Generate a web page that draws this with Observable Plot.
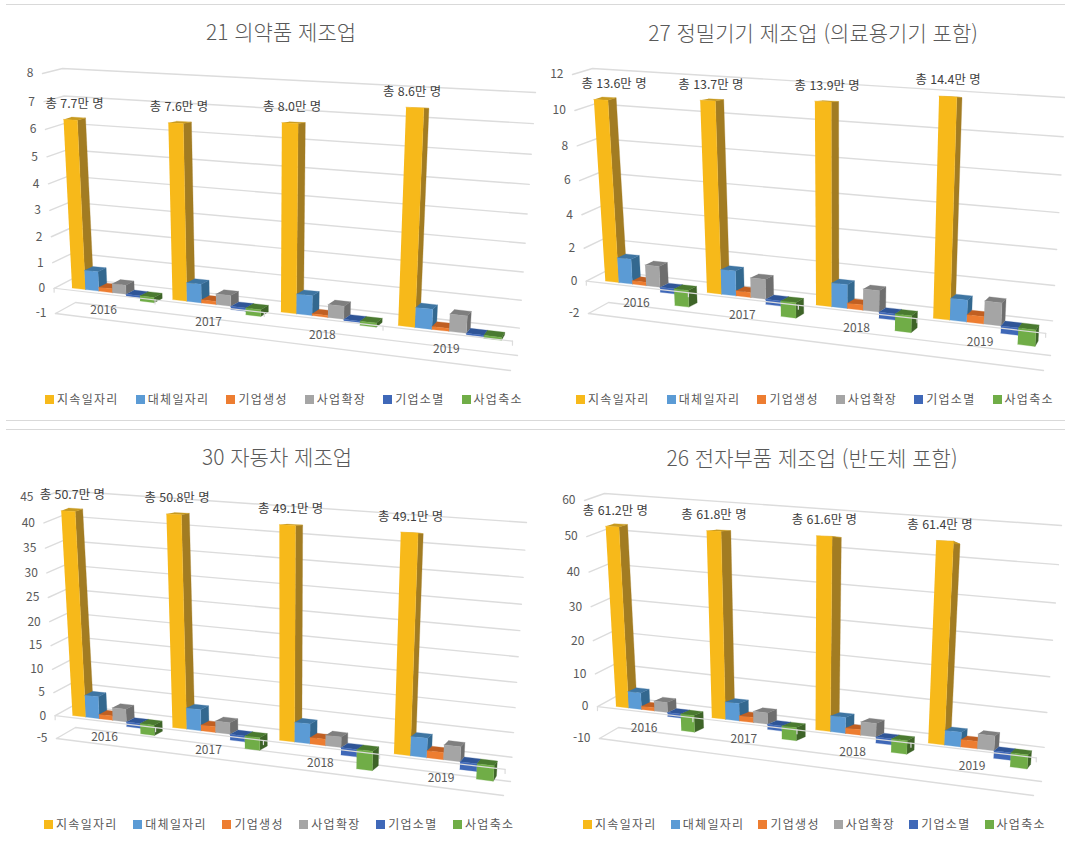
<!DOCTYPE html>
<html lang="ko">
<head>
<meta charset="utf-8">
<title>업종별 일자리 변화</title>
<script src="https://cdn.jsdelivr.net/npm/d3@7"></script>
<script src="https://cdn.jsdelivr.net/npm/@observablehq/plot@0.6"></script>
<style>
  html, body { margin: 0; padding: 0; background: #fff; }
  body { position: relative; width: 1065px; height: 841px; overflow: hidden;
         font-family: "Noto Sans CJK KR", "Noto Sans", sans-serif; color: #595959; }
  .rule { position: absolute; left: 6px; right: 0; height: 1px; background: #d9d9d9; }
  .title { position: absolute; transform: translate(-50%, -50%); font-size: 21px; font-weight: 300; white-space: nowrap; }
  .panel { position: absolute; }
  .panel svg { overflow: visible; background: transparent; display: block; }
  .legend { position: absolute; display: flex; font-size: 12px; letter-spacing: 1.3px; white-space: nowrap; line-height: 14px; }
  .legend span { display: flex; align-items: center; }
  .legend i { display: inline-block; width: 9px; height: 9px; margin-right: 3px; }
</style>
</head>
<body>
<script>
// Categories
const years = ["2016", "2017", "2018", "2019"];
const seriesNames = ["지속일자리", "대체일자리", "기업생성", "사업확장", "기업소멸", "사업축소"];

// 21 의약품 제조업 (만 명)
const pharmaTotals = [7.7, 7.6, 8.0, 8.6];
const pharmaContinuing = [6.35, 6.42, 6.62, 7.3];
const pharmaReplaced = [0.75, 0.7, 0.72, 0.7];
const pharmaBirth = [0.15, 0.12, 0.07, 0.1];
const pharmaExpansion = [0.35, 0.4, 0.47, 0.6];
const pharmaDeath = [-0.08, -0.12, -0.05, -0.05];
const pharmaShrink = [-0.2, -0.25, -0.15, -0.1];

// 27 정밀기기 제조업 (만 명)
const precisionTotals = [13.6, 13.7, 13.9, 14.4];
const precisionContinuing = [10.6, 10.85, 11.1, 11.65];
const precisionReplaced = [1.5, 1.45, 1.35, 1.2];
const precisionBirth = [0.2, 0.3, 0.3, 0.4];
const precisionExpansion = [1.25, 1.15, 1.2, 1.25];
const precisionDeath = [-0.3, -0.3, -0.35, -0.4];
const precisionShrink = [-1.0, -0.9, -0.95, -0.9];

// 30 자동차 제조업 (만 명)
const autoTotals = [50.7, 50.8, 49.1, 49.1];
const autoContinuing = [42.3, 42.7, 41.8, 41.6];
const autoReplaced = [4.7, 4.4, 4, 3.8];
const autoBirth = [0.9, 1.2, 1.3, 1.4];
const autoExpansion = [2.7, 2.4, 2.1, 2.9];
const autoDeath = [-1, -1.2, -1.5, -1.5];
const autoShrink = [-2.2, -2.6, -3.9, -3];

// 26 전자부품 제조업 (만 명)
const electronicsTotals = [61.2, 61.8, 61.6, 61.4];
const electronicsContinuing = [52.7, 52.7, 52.6, 52.7];
const electronicsReplaced = [5, 5.1, 4.5, 4];
const electronicsBirth = [1, 1.5, 1.5, 2];
const electronicsExpansion = [3, 3.3, 3.8, 4];
const electronicsDeath = [-1.2, -1.5, -1.7, -2];
const electronicsShrink = [-5, -3.8, -3.8, -3.8];

// Shades per series: front face, right side, top face
const shades = [
  { front: "#f7b91a", side: "#a27c22", top: "#c79a20" },
  { front: "#5b9bd5", side: "#33688f", top: "#3e75a2" },
  { front: "#ed7d31", side: "#a8561f", top: "#c05f22" },
  { front: "#a5a5a5", side: "#6e6e6e", top: "#7f7f7f" },
  { front: "#3f68b8", side: "#2c4a85", top: "#2f5597" },
  { front: "#70ad47", side: "#3e6428", top: "#4a7a30" }
];

// Panel setup. The corners are the perspective box of each 3D chart, in page pixels.
const panels = [
  {
    title: "21 의약품 제조업", titlePos: [281, 31], legendPos: [45, 392], legendGap: 17,
    ticks: [-1, 0, 1, 2, 3, 4, 5, 6, 7, 8], calloutDx: [4, 3, 2, -3], barShift: 0.007,
    totals: pharmaTotals,
    series: [pharmaContinuing, pharmaReplaced, pharmaBirth, pharmaExpansion, pharmaDeath, pharmaShrink],
    box: [0, 45, 532, 345],
    front: { bl: [55, 313], br: [510, 370], tl: [42, 73], tr: [529, 88] },
    back: { bl: [75, 302], br: [517, 355], tl: [62, 68], tr: [535, 92] }
  },
  {
    title: "27 정밀기기 제조업 (의료용기기 포함)", titlePos: [813, 32], legendPos: [576, 392], legendGap: 17,
    ticks: [-2, 0, 2, 4, 6, 8, 10, 12], calloutDx: [13, 3, 4, 0], barShift: 0.009,
    totals: precisionTotals,
    series: [precisionContinuing, precisionReplaced, precisionBirth, precisionExpansion, precisionDeath, precisionShrink],
    box: [532, 45, 533, 345],
    front: { bl: [588, 313], br: [1043, 370], tl: [572, 74], tr: [1059, 93] },
    back: { bl: [608, 302], br: [1050, 355], tl: [592, 68], tr: [1065, 97] }
  },
  {
    title: "30 자동차 제조업", titlePos: [277, 456], legendPos: [44, 817], legendGap: 15.5,
    ticks: [-5, 0, 5, 10, 15, 20, 25, 30, 35, 40, 45], calloutDx: [4, 3, 3, 1], barShift: 0.006,
    totals: autoTotals,
    series: [autoContinuing, autoReplaced, autoBirth, autoExpansion, autoDeath, autoShrink],
    box: [0, 470, 532, 345],
    front: { bl: [56, 738], br: [503, 795], tl: [42, 497], tr: [520, 517] },
    back: { bl: [75, 727], br: [510, 781], tl: [60, 490], tr: [526, 522] }
  },
  {
    title: "26 전자부품 제조업 (반도체 포함)", titlePos: [812, 457], legendPos: [583, 817], legendGap: 14,
    ticks: [-10, 0, 10, 20, 30, 40, 50, 60], calloutDx: [3, 0, 0, -5], barShift: 0.011,
    totals: electronicsTotals,
    series: [electronicsContinuing, electronicsReplaced, electronicsBirth, electronicsExpansion, electronicsDeath, electronicsShrink],
    box: [532, 470, 533, 345],
    front: { bl: [599, 738], br: [1033, 795], tl: [584, 500], tr: [1054, 511] },
    back: { bl: [618, 727], br: [1041, 781], tl: [604, 493], tr: [1061, 525] }
  }
];

const gridColor = "#dcdcdc";
const tickColor = "#595959";
const font = "'Noto Sans CJK KR', 'Noto Sans', sans-serif";
const groupGap = 0.18;
const barSpread = 0.985;
const depthNear = 0.18;
const depthFar = 0.58;

// Maps the unit square onto a quad through a homography, so spacing shortens with distance.
function quadMap({ bl, br, tl, tr }) {
  const [x0, y0] = bl, [x1, y1] = br, [x2, y2] = tr, [x3, y3] = tl;
  const dx1 = x1 - x2, dx2 = x3 - x2, sx = x0 - x1 + x2 - x3;
  const dy1 = y1 - y2, dy2 = y3 - y2, sy = y0 - y1 + y2 - y3;
  const det = dx1 * dy2 - dx2 * dy1;
  const g = (sx * dy2 - dx2 * sy) / det;
  const h = (dx1 * sy - sx * dy1) / det;
  const a = x1 - x0 + g * x1, b = x3 - x0 + h * x3;
  const d = y1 - y0 + g * y1, e = y3 - y0 + h * y3;
  return (u, t) => {
    const w = g * u + h * t + 1;
    return [(a * u + b * t + x0) / w, (d * u + e * t + y0) / w];
  };
}

function makeProjection(panel) {
  const [vmin, vmax] = d3.extent(panel.ticks);
  const front = quadMap(panel.front);
  const back = quadMap(panel.back);
  // u: 0..1 along the categories, v: data value, depth: 0 front .. 1 back wall
  return (u, v, depth) => {
    const t = (v - vmin) / (vmax - vmin);
    const f = front(u, t), b = back(u, t);
    return [f[0] + (b[0] - f[0]) * depth, f[1] + (b[1] - f[1]) * depth];
  };
}

const barSlot = (1 - groupGap) / seriesNames.length / years.length;

// Left edge of a bar along the category axis
function barStart(panel, g, s) {
  const u = (g + groupGap / 2) / years.length + s * barSlot;
  return 0.5 + (u - 0.5) * barSpread + panel.barShift;
}

// Builds the three visible faces of every bar, left to right so nearer faces overpaint.
function barFaces(panel, project) {
  const faces = [];
  years.forEach((_, g) => {
    panel.series.forEach((values, s) => {
      const u0 = barStart(panel, g, s);
      const u1 = u0 + barSlot * barSpread;
      const value = values[g];
      const high = Math.max(value, 0), low = Math.min(value, 0);
      const shade = shades[s];
      const quads = [
        [shade.side, [[u1, low, depthNear], [u1, low, depthFar], [u1, high, depthFar], [u1, high, depthNear]]],
        [shade.top, [[u0, high, depthNear], [u1, high, depthNear], [u1, high, depthFar], [u0, high, depthFar]]],
        [shade.front, [[u0, low, depthNear], [u1, low, depthNear], [u1, high, depthNear], [u0, high, depthNear]]]
      ];
      quads.forEach(([color, corners], f) => {
        const id = `${g}-${s}-${f}`;
        corners.forEach(c => {
          const [x, y] = project(...c);
          faces.push({ id, color, x, y });
        });
      });
    });
  });
  return faces;
}

// Wall and floor gridlines: front-left edge, back-left corner, back-right corner.
function gridPaths(panel, project) {
  const pts = [];
  const vmin = d3.min(panel.ticks);
  panel.ticks.forEach(v => {
    [[0, v, 0], [0, v, 1], [1, v, 1]].forEach(c => {
      const [x, y] = project(...c);
      pts.push({ id: `g${v}`, x, y });
    });
  });
  [[0, vmin, 0], [1, vmin, 0]].forEach(c => {
    const [x, y] = project(...c);
    pts.push({ id: "floor", x, y });
  });
  return pts;
}

function categoryAxis(project) {
  const pts = [[0, 0, 0], [1, 0, 0]].map(c => {
    const [x, y] = project(...c);
    return { id: "axis", x, y };
  });
  d3.range(years.length + 1).forEach(i => {
    const [x, y] = project(i / years.length, 0, 0);
    pts.push({ id: `t${i}`, x, y }, { id: `t${i}`, x, y: y + 4 });
  });
  return pts;
}

function drawPanel(panel) {
  const project = makeProjection(panel);
  const [ox, oy, w, h] = panel.box;

  const tickLabels = panel.ticks.map(v => {
    const [x, y] = project(0, v, 0);
    return { x, y, text: String(v) };
  });
  const yearLabels = years.map((year, i) => {
    const [x, y] = project((i + 0.5) / years.length, 0, 0);
    return { x, y: y + 16, text: year };
  });
  const callouts = panel.totals.map((total, i) => {
    const u = barStart(panel, i, 0) + barSlot / 2;
    const [x, y] = project(u, panel.series[0][i], depthNear);
    return { x: x + panel.calloutDx[i], y: y - 16, text: `총 ${total.toFixed(1)}만 명` };
  });

  const chart = Plot.plot({
    width: w, height: h,
    margin: 0,
    x: { domain: [ox, ox + w], range: [0, w], axis: null },
    y: { domain: [oy, oy + h], range: [0, h], axis: null },
    marks: [
      Plot.line(gridPaths(panel, project), { x: "x", y: "y", z: "id", stroke: gridColor, strokeWidth: 1.4 }),
      Plot.line(barFaces(panel, project), { x: "x", y: "y", z: "id", fill: "color", stroke: "color", strokeWidth: 0.3 }),
      Plot.line(categoryAxis(project), { x: "x", y: "y", z: "id", stroke: gridColor, strokeWidth: 1.2 }),
      Plot.text(tickLabels, { x: "x", y: "y", text: "text", dx: -9, textAnchor: "end", fontSize: 12, fontFamily: font, fill: tickColor }),
      Plot.text(yearLabels, { x: "x", y: "y", text: "text", fontSize: 12, fontFamily: font, fill: tickColor }),
      Plot.text(callouts, { x: "x", y: "y", text: "text", fontSize: 12.4, fontFamily: font, fill: "#404040" })
    ]
  });

  const holder = document.createElement("div");
  holder.className = "panel";
  holder.style.cssText = `left:${ox}px;top:${oy}px;width:${w}px;height:${h}px`;
  holder.append(chart);
  document.body.append(holder);

  const title = document.createElement("div");
  title.className = "title";
  title.textContent = panel.title;
  title.style.left = panel.titlePos[0] + "px";
  title.style.top = panel.titlePos[1] + "px";
  document.body.append(title);

  const legend = document.createElement("div");
  legend.className = "legend";
  legend.style.cssText = `left:${panel.legendPos[0]}px;top:${panel.legendPos[1]}px;gap:${panel.legendGap}px`;
  seriesNames.forEach((name, s) => {
    const item = document.createElement("span");
    const swatch = document.createElement("i");
    swatch.style.background = shades[s].front;
    item.append(swatch, name);
    legend.append(item);
  });
  document.body.append(legend);
}

[4, 420, 429].forEach(top => {
  const rule = document.createElement("div");
  rule.className = "rule";
  rule.style.top = top + "px";
  document.body.append(rule);
});
panels.forEach(drawPanel);
</script>
</body>
</html>
